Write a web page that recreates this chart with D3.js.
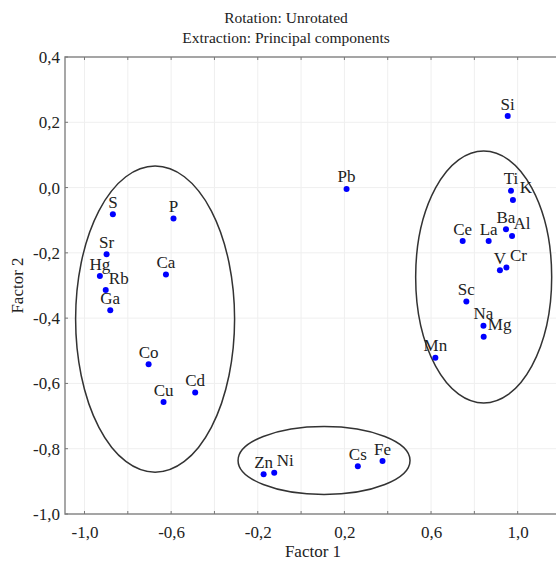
<!DOCTYPE html>
<meta charset="utf-8">
<script src="https://d3js.org/d3.v7.min.js"></script>
<style>
  body { margin: 0; background: #fff; }
  text { font-family: "Liberation Serif", "Times New Roman", serif; fill: #222; }
</style>
<svg id="chart" width="556" height="563"></svg>
<script>

  // Data: element loadings on factor 1 and factor 2
  var elements = ["S", "P", "Sr", "Hg", "Ca", "Rb", "Ga", "Co", "Cu", "Cd",
                  "Pb", "Si", "Ti", "K", "Ba", "Al", "Ce", "La", "V", "Cr",
                  "Sc", "Na", "Mg", "Mn", "Zn", "Ni", "Cs", "Fe"];
  var factor1 = [-0.869, -0.589, -0.898, -0.929, -0.624, -0.902, -0.881, -0.704, -0.635, -0.489,
                 0.210, 0.954, 0.969, 0.978, 0.946, 0.974, 0.746, 0.866, 0.918, 0.948,
                 0.763, 0.842, 0.843, 0.620, -0.173, -0.124, 0.262, 0.376];
  var factor2 = [-0.082, -0.095, -0.204, -0.271, -0.266, -0.314, -0.376, -0.541, -0.657, -0.628,
                 -0.004, 0.219, -0.010, -0.038, -0.128, -0.148, -0.164, -0.164, -0.253, -0.245,
                 -0.349, -0.423, -0.457, -0.521, -0.878, -0.874, -0.854, -0.838];

  // Group ellipses (centre and radii in factor units)
  var groupCx = [-0.674, 0.843, 0.106];
  var groupCy = [-0.403, -0.274, -0.836];
  var groupRx = [0.367, 0.314, 0.397];
  var groupRy = [0.469, 0.386, 0.104];

  var xTicks = [-1.0, -0.6, -0.2, 0.2, 0.6, 1.0];
  var xGrid = [-1.0, -0.8, -0.6, -0.4, -0.2, 0.0, 0.2, 0.4, 0.6, 0.8, 1.0];
  var yTicks = [0.4, 0.2, 0.0, -0.2, -0.4, -0.6, -0.8, -1.0];

  // labels that sit to the right of their point instead of above it
  var labelShift = { Rb: 13, K: 13, Al: 10, Cr: 12, Mg: 16, Ni: 11 };

  var svg = d3.select("#chart");

  var plotL = 65, plotR = 561, plotT = 57, plotB = 514;

  var x = d3.scaleLinear().domain([-1.09, 1.2]).range([plotL, plotR]);
  var y = d3.scaleLinear().domain([-1.0, 0.4]).range([plotB, plotT]);

  var fmt = function(v) { return d3.format(".1f")(v).replace(".", ",").replace("−", "-"); };

  // grid
  svg.append("g").selectAll("line").data(xGrid).enter().append("line")
      .attr("x1", d => x(d)).attr("x2", d => x(d))
      .attr("y1", plotT).attr("y2", plotB)
      .attr("stroke", "#efefef").attr("stroke-width", 1);
  svg.append("g").selectAll("line").data(yTicks).enter().append("line")
      .attr("x1", plotL).attr("x2", plotR)
      .attr("y1", d => y(d)).attr("y2", d => y(d))
      .attr("stroke", "#efefef").attr("stroke-width", 1);

  // axes
  var xAxis = d3.axisBottom(x).tickValues(xTicks).tickFormat(fmt).tickSize(0).tickPadding(12);
  var gx = svg.append("g").attr("transform", "translate(0," + plotB + ")").call(xAxis);
  gx.select(".domain").remove();
  gx.selectAll("text").style("font-size", "17px").style("font-family", "Liberation Serif").attr("fill", "#222");

  var yAxis = d3.axisLeft(y).tickValues(yTicks).tickFormat(fmt).tickSize(0).tickPadding(5);
  var gy = svg.append("g").attr("transform", "translate(" + plotL + ",0)").call(yAxis);
  gy.select(".domain").remove();
  gy.selectAll("text").style("font-size", "17px").style("font-family", "Liberation Serif").attr("fill", "#222");

  // frame lines
  svg.append("path")
      .attr("d", "M" + plotR + "," + plotT + "H" + plotL + "V" + plotB + "H" + plotR)
      .attr("fill", "none").attr("stroke", "#8a8a8a").attr("stroke-width", 1.5);

  // tiny ticks on the frame
  svg.append("g").selectAll("line").data(xGrid).enter().append("line")
      .attr("x1", d => x(d)).attr("x2", d => x(d))
      .attr("y1", plotB).attr("y2", plotB - 3)
      .attr("stroke", "#777");
  svg.append("g").selectAll("line").data(xGrid).enter().append("line")
      .attr("x1", d => x(d)).attr("x2", d => x(d))
      .attr("y1", plotT).attr("y2", plotT + 3)
      .attr("stroke", "#777");
  svg.append("g").selectAll("line").data(yTicks).enter().append("line")
      .attr("x1", plotL).attr("x2", plotL + 3)
      .attr("y1", d => y(d)).attr("y2", d => y(d))
      .attr("stroke", "#777");

  // ellipses
  svg.append("g").selectAll("ellipse").data(groupCx).enter().append("ellipse")
      .attr("cx", (d, i) => x(groupCx[i]))
      .attr("cy", (d, i) => y(groupCy[i]))
      .attr("rx", (d, i) => x(groupRx[i]) - x(0))
      .attr("ry", (d, i) => y(0) - y(groupRy[i]))
      .attr("fill", "none").attr("stroke", "#333").attr("stroke-width", 1.5);

  // points
  svg.append("g").selectAll("circle").data(elements).enter().append("circle")
      .attr("cx", (d, i) => x(factor1[i]))
      .attr("cy", (d, i) => y(factor2[i]))
      .attr("r", 3)
      .attr("fill", "#0000ff");

  // labels
  svg.append("g").selectAll("text").data(elements).enter().append("text")
      .attr("x", (d, i) => x(factor1[i]) + (labelShift[d] || 0))
      .attr("y", (d, i) => y(factor2[i]) - 6.5)
      .attr("text-anchor", "middle")
      .style("font-size", "17px")
      .text(d => d);

  // titles
  svg.append("text").attr("x", 286).attr("y", 23).attr("text-anchor", "middle")
      .style("font-size", "15.5px").text("Rotation: Unrotated");
  svg.append("text").attr("x", 286).attr("y", 43).attr("text-anchor", "middle")
      .style("font-size", "15.5px").text("Extraction: Principal components");

  svg.append("text").attr("x", 313).attr("y", 557).attr("text-anchor", "middle")
      .style("font-size", "17px").text("Factor 1");
  svg.append("text")
      .attr("transform", "translate(23," + ((plotT + plotB) / 2) + ") rotate(-90)")
      .attr("text-anchor", "middle")
      .style("font-size", "17px").text("Factor 2");

</script>
